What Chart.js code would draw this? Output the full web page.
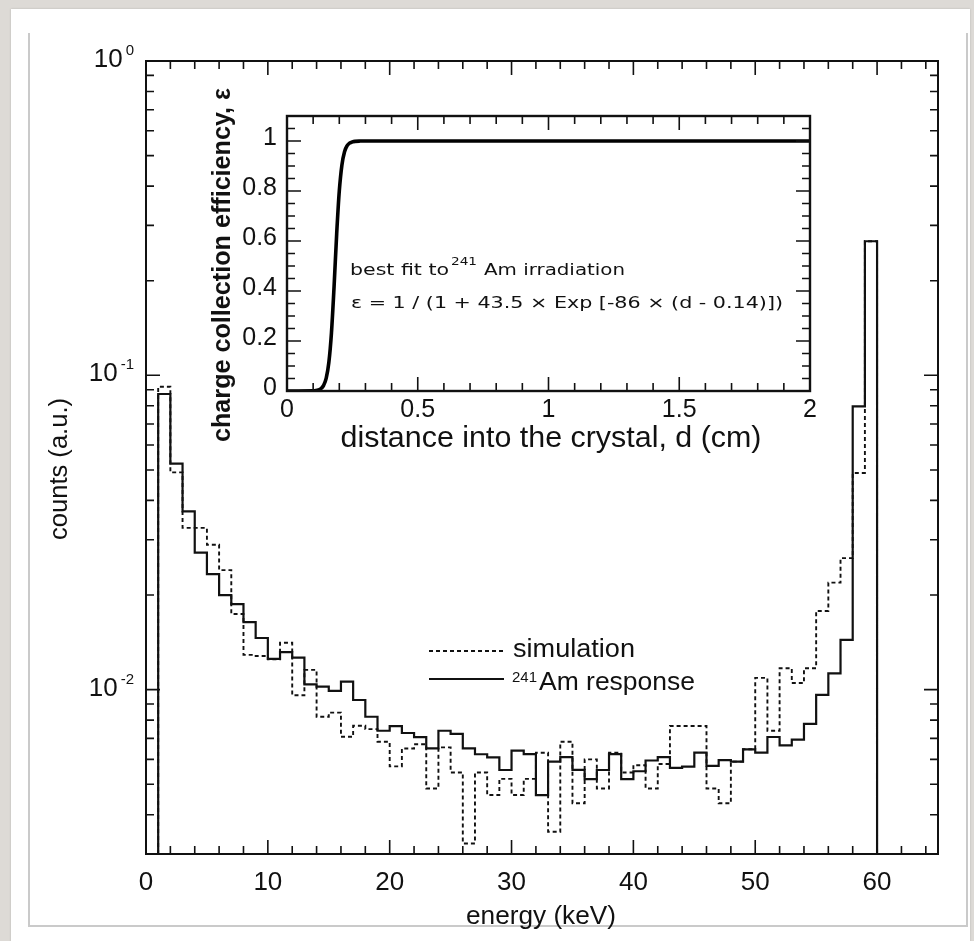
<!DOCTYPE html>
<html>
<head>
<meta charset="utf-8">
<script src="https://cdn.jsdelivr.net/npm/chart.js@4.4.1/dist/chart.umd.min.js"></script>
<style>
  html, body { margin: 0; padding: 0; }
  body { width: 974px; height: 941px; overflow: hidden; background: #dddad6; position: relative; }
  #card { position: absolute; left: 11px; top: 9px; width: 959px; height: 940px; background: #fff; box-shadow: 0 0 2px rgba(0,0,0,0.18); }
  #frame { position: absolute; left: 28px; top: 33px; width: 936px; height: 892px;
           border-left: 2px solid #cacaca; border-right: 2px solid #cacaca; border-bottom: 2px solid #cacaca; }
  canvas { position: absolute; left: 0; top: 0; }
</style>
</head>
<body>
<div id="card"></div>
<div id="frame"></div>
<canvas id="spectrum" width="974" height="941"></canvas>
<canvas id="cce" width="974" height="941"></canvas>
<script>
// ---- energy spectrum: 1 keV bins, lower edges 1..59 plus the final upper edge 60 ----
const energyEdges = [1,2,3,4,5,6,7,8,9,10,11,12,13,14,15,16,17,18,19,20,
                     21,22,23,24,25,26,27,28,29,30,31,32,33,34,35,36,37,38,39,40,
                     41,42,43,44,45,46,47,48,49,50,51,52,53,54,55,56,57,58,59,60];

const amResponse = [0.0872,0.0524,0.0369,0.0273,0.0233,0.0200,0.0187,0.0164,0.0146,0.01253,
                    0.01316,0.01265,0.0104,0.01023,0.00991,0.0106,0.00927,0.0082,0.0074,0.00766,
                    0.00728,0.00706,0.0065,0.0074,0.00723,0.0065,0.00623,0.00609,0.00555,0.0064,
                    0.00624,0.00462,0.0059,0.0061,0.00556,0.00519,0.00555,0.00624,0.00519,0.0055,
                    0.00595,0.0061,0.00564,0.00569,0.0063,0.00572,0.00597,0.0059,0.00646,0.0063,
                    0.00707,0.00665,0.00693,0.00778,0.00962,0.01127,0.01439,0.0796,0.267];

const simulation = [0.092,0.0491,0.0327,0.0327,0.0289,0.0240,0.0174,0.0129,0.0128,0.0125,
                    0.0141,0.0096,0.01156,0.0082,0.00845,0.00708,0.00768,0.00749,0.00683,0.0057,
                    0.0065,0.0067,0.00485,0.00655,0.00545,0.00324,0.00545,0.00462,0.0052,0.00462,
                    0.0052,0.0063,0.00353,0.00683,0.00435,0.006,0.00485,0.0063,0.00545,0.00575,
                    0.00485,0.0058,0.00766,0.00766,0.00766,0.00485,0.00435,0.0059,0.00646,0.0109,
                    0.0074,0.0117,0.0105,0.0117,0.0178,0.0219,0.0262,0.0489,0.267];

const energyMin = 0, energyMax = 65;
const countsMin = 0.003, countsMax = 1;
const energyTicks = [0,10,20,30,40,50,60];
const countDecades = [1, 0.1, 0.01];
const countDecadeExponents = ['0', '-1', '-2'];

// ---- charge collection efficiency inset ----
const depthCm    = [0, 0.10, 0.11, 0.12, 0.13, 0.14, 0.15, 0.16, 0.17, 0.18, 0.19, 0.20,
                    0.21, 0.22, 0.23, 0.24, 0.25, 0.26, 0.28, 0.30, 2.0];
const efficiency = [0, 0.0007, 0.0017, 0.0041, 0.0096, 0.0225, 0.0515, 0.1138, 0.2327, 0.4176, 0.6288, 0.8001,
                    0.9044, 0.9572, 0.9814, 0.9920, 0.9966, 0.9986, 0.9997, 1.0, 1.0];
const depthTicks = [0, 0.5, 1, 1.5, 2];
const depthTickLabels = ['0', '0.5', '1', '1.5', '2'];
const effTicks = [0, 0.2, 0.4, 0.6, 0.8, 1];
const effTickLabels = ['0', '0.2', '0.4', '0.6', '0.8', '1'];

const SANS = '"Liberation Sans", Arial, Helvetica, sans-serif';
const GENEVA = '"DejaVu Sans", Verdana, sans-serif';
const INK = '#111';

// step outline of a histogram, closed down to the axis floor at both ends
function histogramOutline(edges, values, floor) {
  const pts = [{ x: edges[0], y: floor }];
  values.forEach((v, i) => pts.push({ x: edges[i], y: v }));
  pts.push({ x: edges[edges.length - 1], y: floor });
  return pts;
}

// draws text, optionally squeezed/stretched to a given width and rotated
function drawText(ctx, s, x, y, o) {
  ctx.save();
  ctx.font = o.font;
  ctx.fillStyle = o.color || INK;
  ctx.textBaseline = o.baseline || 'alphabetic';
  ctx.textAlign = 'left';
  ctx.translate(x, y);
  if (o.rot) ctx.rotate(o.rot);
  const w = ctx.measureText(s).width;
  const sx = o.width ? o.width / w : (o.sx || 1);
  ctx.scale(sx, 1);
  let dx = 0;
  if (o.align === 'center') dx = -w / 2;
  else if (o.align === 'right') dx = -w;
  ctx.fillText(s, dx, 0);
  ctx.restore();
  return w * sx;
}

function measure(ctx, s, font) {
  ctx.save(); ctx.font = font; const w = ctx.measureText(s).width; ctx.restore(); return w;
}

const spectrumDecor = {
  id: 'spectrumDecor',
  afterDraw(chart) {
    const { ctx, chartArea: a, scales: { x, y } } = chart;
    ctx.save();
    ctx.strokeStyle = INK;
    ctx.lineWidth = 2;
    ctx.strokeRect(a.left, a.top, a.right - a.left, a.bottom - a.top);

    // inward ticks on all four sides
    ctx.lineWidth = 1.6;
    ctx.beginPath();
    for (let k = 0; 2 * k <= energyMax; k++) {
      const v = 2 * k, px = x.getPixelForValue(v), len = v % 10 === 0 ? 14 : 8;
      ctx.moveTo(px, a.bottom); ctx.lineTo(px, a.bottom - len);
      ctx.moveTo(px, a.top);    ctx.lineTo(px, a.top + len);
    }
    for (let e = -3; e <= 0; e++) {
      for (let m = 1; m <= 9; m++) {
        const v = m * Math.pow(10, e);
        if (v < countsMin * 0.999 || v > countsMax * 1.001) continue;
        const py = y.getPixelForValue(v), len = m === 1 ? 14 : 8;
        ctx.moveTo(a.left, py);  ctx.lineTo(a.left + len, py);
        ctx.moveTo(a.right, py); ctx.lineTo(a.right - len, py);
      }
    }
    ctx.stroke();

    // energy tick labels
    energyTicks.forEach(v => {
      drawText(ctx, String(v), x.getPixelForValue(v), a.bottom + 36, { font: '26px ' + SANS, align: 'center' });
    });
    // decade labels with raised exponent
    countDecades.forEach((v, i) => {
      const py = y.getPixelForValue(v);
      const base = '10', sup = countDecadeExponents[i];
      const fb = '26px ' + SANS, fs = '15px ' + SANS;
      const wb = measure(ctx, base, fb), ws = measure(ctx, sup, fs);
      const right = a.left - 12;
      const start = right - ws - 3 - wb;
      drawText(ctx, base, start, py + 6, { font: fb });
      drawText(ctx, sup, start + wb + 3, py - 6, { font: fs });
    });

    // axis titles
    drawText(ctx, 'energy (keV)', (a.left + a.right) / 2 - 1, 924, { font: '26px ' + SANS, align: 'center', width: 150 });
    drawText(ctx, 'counts (a.u.)', 60, 469, { font: '26px ' + SANS, align: 'center', rot: -Math.PI / 2, baseline: 'middle', width: 142 });

    // legend
    const dsSim = chart.data.datasets[1], dsAm = chart.data.datasets[0];
    ctx.strokeStyle = INK;
    ctx.lineWidth = dsSim.borderWidth;
    ctx.setLineDash(dsSim.borderDash);
    ctx.beginPath(); ctx.moveTo(429, 651); ctx.lineTo(504, 651); ctx.stroke();
    ctx.setLineDash([]);
    ctx.lineWidth = dsAm.borderWidth;
    ctx.beginPath(); ctx.moveTo(429, 679); ctx.lineTo(504, 679); ctx.stroke();
    drawText(ctx, 'simulation', 513, 657, { font: '26px ' + SANS, width: 122 });
    drawText(ctx, '241', 512, 682, { font: '14px ' + SANS, width: 25 });
    drawText(ctx, 'Am response', 539, 690, { font: '26px ' + SANS, width: 156 });
    ctx.restore();
  }
};

new Chart(document.getElementById('spectrum'), {
  type: 'line',
  data: {
    datasets: [
      { label: '241Am response', data: histogramOutline(energyEdges, amResponse, countsMin),
        stepped: true, borderColor: INK, borderWidth: 2.2, pointRadius: 0, fill: false },
      { label: 'simulation', data: histogramOutline(energyEdges, simulation, countsMin),
        stepped: true, borderColor: INK, borderWidth: 1.9, borderDash: [4, 3], pointRadius: 0, fill: false }
    ]
  },
  options: {
    responsive: false, animation: false, devicePixelRatio: 1,
    layout: { padding: { left: 146, top: 61, right: 36, bottom: 87 } },
    scales: {
      x: { type: 'linear', min: energyMin, max: energyMax, display: false },
      y: { type: 'logarithmic', min: countsMin, max: countsMax, display: false }
    },
    plugins: { legend: { display: false }, tooltip: { enabled: false } }
  },
  plugins: [spectrumDecor]
});

const cceDecor = {
  id: 'cceDecor',
  afterDraw(chart) {
    const { ctx, chartArea: a, scales: { x, y } } = chart;
    ctx.save();
    ctx.strokeStyle = INK;
    ctx.lineWidth = 2.4;
    ctx.strokeRect(a.left, a.top, a.right - a.left, a.bottom - a.top);

    ctx.lineWidth = 1.6;
    ctx.beginPath();
    for (let k = 0; k <= 20; k++) {
      const px = x.getPixelForValue(k / 10), len = k % 5 === 0 ? 14 : 8;
      ctx.moveTo(px, a.bottom); ctx.lineTo(px, a.bottom - len);
      ctx.moveTo(px, a.top);    ctx.lineTo(px, a.top + len);
    }
    for (let k = 0; k <= 22; k++) {
      const py = y.getPixelForValue(k / 20), len = k % 4 === 0 ? 14 : 8;
      ctx.moveTo(a.left, py);  ctx.lineTo(a.left + len, py);
      ctx.moveTo(a.right, py); ctx.lineTo(a.right - len, py);
    }
    ctx.stroke();

    depthTicks.forEach((v, i) => {
      drawText(ctx, depthTickLabels[i], x.getPixelForValue(v), a.bottom + 26, { font: '25px ' + SANS, align: 'center' });
    });
    effTicks.forEach((v, i) => {
      drawText(ctx, effTickLabels[i], a.left - 10, y.getPixelForValue(v) + 4, { font: '25px ' + SANS, align: 'right' });
    });

    drawText(ctx, 'distance into the crystal, d (cm)', 551, 447, { font: '30px ' + SANS, align: 'center', width: 421 });
    drawText(ctx, 'charge collection efficiency, \u03b5', 223, 265, { font: 'bold 26px ' + SANS, align: 'center',
      rot: -Math.PI / 2, baseline: 'middle', width: 354 });

    drawText(ctx, 'best fit to', 350, 275, { font: '16px ' + GENEVA, width: 99 });
    drawText(ctx, '241', 451, 265, { font: '11px ' + GENEVA, width: 26 });
    drawText(ctx, 'Am irradiation', 484, 275, { font: '16px ' + GENEVA, width: 141 });
    drawText(ctx, '\u03b5 = 1 / (1 + 43.5 \u00d7 Exp [-86 \u00d7 (d - 0.14)])', 351, 308, { font: '16px ' + GENEVA, width: 432 });
    ctx.restore();
  }
};

new Chart(document.getElementById('cce'), {
  type: 'line',
  data: {
    datasets: [{
      label: 'charge collection efficiency',
      data: depthCm.map((d, i) => ({ x: d, y: efficiency[i] })),
      borderColor: '#000', borderWidth: 3.6, pointRadius: 0, fill: false,
      cubicInterpolationMode: 'monotone'
    }]
  },
  options: {
    responsive: false, animation: false, devicePixelRatio: 1,
    layout: { padding: { left: 287, top: 116, right: 164, bottom: 550 } },
    scales: {
      x: { type: 'linear', min: 0, max: 2, display: false },
      y: { type: 'linear', min: 0, max: 1.1, display: false }
    },
    plugins: { legend: { display: false }, tooltip: { enabled: false } }
  },
  plugins: [cceDecor]
});
</script>
</body>
</html>
